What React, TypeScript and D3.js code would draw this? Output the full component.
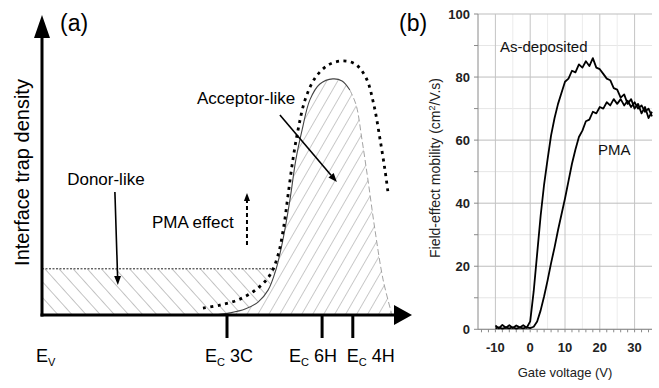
import React from 'react';
import * as d3 from 'd3';

const W = 659;
const H = 388;
const FONT = 'Liberation Sans, Arial, sans-serif';

// ---- panel (a): schematic trap density, energy 0..10 (Ev -> right), density 0..10
const donorLevel = 1.54;
const donorEnd = 6.32;
const acceptorRise: [number, number][] = [
  [4.68, 0], [5.08, 0.07], [5.49, 0.2], [5.84, 0.43], [6.11, 0.83], [6.32, 1.5],
  [6.51, 2.5], [6.7, 3.83], [6.86, 5.17], [7.03, 6.17], [7.24, 7.17], [7.51, 7.7],
  [7.86, 7.87], [8.11, 7.8], [8.32, 7.5],
];
const acceptorFall: [number, number][] = [
  [8.32, 7.5], [8.49, 7.0], [8.65, 5.83], [8.81, 4.5], [9.0, 2.83], [9.22, 1.17], [9.46, 0],
];
const pmaShift: [number, number][] = [
  [4.35, 0.23], [4.81, 0.33], [5.35, 0.53], [5.84, 0.9], [6.16, 1.33], [6.38, 2.0],
  [6.54, 3.0], [6.65, 4.0], [6.78, 5.17], [6.92, 6.17], [7.11, 7.17], [7.38, 7.9],
  [7.73, 8.33], [8.11, 8.47], [8.46, 8.37], [8.76, 7.9], [8.97, 7.0], [9.14, 5.83],
  [9.27, 4.83], [9.35, 4.1],
];
const bandEdges = [5.0, 7.57, 8.4];
const bandNames = ['3C', '6H', '4H'];

// ---- panel (b): field-effect mobility vs gate voltage
const gateVoltage = [
  -10, -9, -8, -7, -6, -5, -4, -3, -2, -1, 0, 1, 2, 3, 4, 5, 6, 7, 8, 9, 10, 11, 12,
  13, 14, 15, 16, 17, 18, 19, 20, 21, 22, 23, 24, 25, 26, 27, 28, 29, 30, 31, 32, 33, 34, 35,
];
const muAsDeposited = [
  1.2, 0.3, 1.4, 0.5, 1.3, 0.4, 1.2, 0.6, 1.3, 0.5, 2.5, 12, 24, 36, 46, 54, 61.5, 67,
  71.5, 75, 78.5, 79.5, 82, 81.5, 84, 83, 85, 83.5, 86, 83, 82.5, 81, 79.5, 79, 76.5,
  76, 73.5, 74.5, 71.5, 73, 70, 71.5, 68.5, 70.5, 67, 69,
];
const muPMA = [
  0.3, 0.6, 0.2, 0.5, 0.3, 0.6, 0.2, 0.5, 0.3, 0.6, 0.4, 0.8, 2.5, 6, 10.5, 15.5, 21,
  26, 31.5, 36.5, 41.5, 47, 52.5, 57, 61, 63, 66, 66.5, 69, 68.5, 70.5, 70, 72, 71, 73,
  71.5, 73, 71, 72.5, 70.5, 72, 70, 71, 69, 70, 67.5,
];
const xTicksB = [-10, 0, 10, 20, 30];
const yTicksB = [0, 20, 40, 60, 80, 100];

function Arrow({ x1, y1, x2, y2, dash, w = 1.6, head = 9 }: any) {
  const a = Math.atan2(y2 - y1, x2 - x1);
  const bx = x2 - head * Math.cos(a);
  const by = y2 - head * Math.sin(a);
  const hw = head * 0.38;
  const p1 = [bx + hw * Math.sin(a), by - hw * Math.cos(a)];
  const p2 = [bx - hw * Math.sin(a), by + hw * Math.cos(a)];
  return (
    <g>
      <line x1={x1} y1={y1} x2={bx} y2={by} stroke="#000" strokeWidth={w} strokeDasharray={dash} />
      <polygon points={`${x2},${y2} ${p1[0]},${p1[1]} ${p2[0]},${p2[1]}`} fill="#000" />
    </g>
  );
}

export default function App() {
  const xa = d3.scaleLinear().domain([0, 10]).range([42, 412]);
  const ya = d3.scaleLinear().domain([0, 10]).range([315, 15]);
  const lineA = d3.line<[number, number]>().x(d => xa(d[0])).y(d => ya(d[1]));
  const smoothA = d3.line<[number, number]>().x(d => xa(d[0])).y(d => ya(d[1])).curve(d3.curveCatmullRom);

  const donorPoly: [number, number][] = [
    [0, 0], [0, donorLevel], [donorEnd, donorLevel],
    ...acceptorRise.filter(p => p[1] <= donorLevel).slice().reverse(),
  ];
  const acceptorPoly: [number, number][] = [...acceptorRise, ...acceptorFall.slice(1)];

  const xb = d3.scaleLinear().domain([-15, 35]).range([478, 652]);
  const yb = d3.scaleLinear().domain([0, 100]).range([329.3, 14]);
  const lineB = d3.line<number>().x((_, i) => xb(gateVoltage[i])).y(d => yb(d));
  const minorX = d3.range(-14, 35, 2);
  const gridXMinor = [-5, 5, 15, 25];
  const gridYMinor = [10, 30, 50, 70, 90];
  const labelDx = [-22, -33, -6];

  return (
    <svg width={W} height={H} style={{ position: 'absolute', left: 0, top: 0, background: '#fff' }} fontFamily={FONT}>
      <defs>
        <pattern id="hDonor" width="10.5" height="10.5" patternUnits="userSpaceOnUse" patternTransform="rotate(-42)">
          <line x1="0" y1="0" x2="0" y2="10.5" stroke="#7a7a7a" strokeWidth="0.9" />
        </pattern>
        <pattern id="hAcc" width="9.5" height="9.5" patternUnits="userSpaceOnUse" patternTransform="rotate(30)">
          <line x1="0" y1="0" x2="0" y2="9.5" stroke="#8a8a8a" strokeWidth="0.9" />
        </pattern>
      </defs>

      {/* panel (a) */}
      <path d={lineA(donorPoly) + 'Z'} fill="url(#hDonor)" />
      <path d={smoothA(acceptorPoly) + 'Z'} fill="url(#hAcc)" />
      <line x1={xa(0)} x2={xa(donorEnd)} y1={ya(donorLevel)} y2={ya(donorLevel)} stroke="#222" strokeWidth={1} strokeDasharray="2,1.5" />
      <path d={smoothA(acceptorRise) ?? ''} fill="none" stroke="#444" strokeWidth={1.1} />
      <path d={smoothA(acceptorFall) ?? ''} fill="none" stroke="#999" strokeWidth={0.9} strokeDasharray="6,3" />
      <path d={smoothA(pmaShift) ?? ''} fill="none" stroke="#000" strokeWidth={2.8} strokeDasharray="3,4.5" />

      <line x1={xa(0)} x2={xa(0)} y1={ya(0) + 1.5} y2={ya(10) + 20} stroke="#000" strokeWidth={3} />
      <polygon points={`${xa(0)},${ya(10)} ${xa(0) - 8},${ya(10) + 23} ${xa(0) + 8},${ya(10) + 23}`} fill="#000" />
      <line x1={xa(0) - 1.5} x2={xa(10) - 16} y1={ya(0)} y2={ya(0)} stroke="#000" strokeWidth={3} />
      <polygon points={`${xa(10)},${ya(0)} ${xa(10) - 18},${ya(0) - 10} ${xa(10) - 18},${ya(0) + 10}`} fill="#000" />
      {bandEdges.map(e => (
        <line key={e} x1={xa(e)} x2={xa(e)} y1={ya(0)} y2={ya(0) + 23} stroke="#000" strokeWidth={3} />
      ))}

      <text x={xa(0) - 6} y={362} fontSize={18}>E<tspan fontSize={11} dy={4}>V</tspan></text>
      {bandEdges.map((e, i) => (
        <text key={e} x={xa(e) + labelDx[i]} y={362} fontSize={18}>
          E<tspan fontSize={11} dy={4}>C</tspan><tspan dy={-4}> {bandNames[i]}</tspan>
        </text>
      ))}

      <text x={60} y={31} fontSize={23}>(a)</text>
      <text x={399} y={31} fontSize={23}>(b)</text>
      <text transform={`translate(29,${ya(4.75)}) rotate(-90)`} textAnchor="middle" fontSize={20}>Interface trap density</text>

      <text x={xa(4.19)} y={ya(7.05)} fontSize={17}>Acceptor-like</text>
      <Arrow x1={xa(6.43)} y1={ya(6.67)} x2={xa(7.97)} y2={ya(4.43)} />
      <text x={xa(0.68)} y={ya(4.33)} fontSize={17}>Donor-like</text>
      <Arrow x1={xa(1.97)} y1={ya(4.1)} x2={xa(2.05)} y2={ya(1.0)} />
      <text x={xa(2.97)} y={ya(2.9)} fontSize={17}>PMA effect</text>
      <Arrow x1={xa(5.54)} y1={ya(2.33)} x2={xa(5.54)} y2={ya(4.07)} dash="4,3" w={2} head={8} />

      {/* panel (b) */}
      {gridYMinor.map(v => (
        <line key={'gy' + v} x1={xb(-15)} x2={xb(35)} y1={yb(v)} y2={yb(v)} stroke="#e6e6e6" strokeWidth={1} />
      ))}
      {gridXMinor.map(v => (
        <line key={'gx' + v} x1={xb(v)} x2={xb(v)} y1={yb(0)} y2={yb(100)} stroke="#ececec" strokeWidth={1} />
      ))}
      {yTicksB.map(v => (
        <line key={'y' + v} x1={xb(-15)} x2={xb(35)} y1={yb(v)} y2={yb(v)} stroke="#bdbdbd" strokeWidth={1} />
      ))}
      {xTicksB.map(v => (
        <line key={'x' + v} x1={xb(v)} x2={xb(v)} y1={yb(0)} y2={yb(100)} stroke="#c4c4c4" strokeWidth={1} />
      ))}
      <line x1={xb(-15)} x2={xb(-15)} y1={yb(0)} y2={yb(100)} stroke="#8a8a8a" strokeWidth={1} />
      <line x1={xb(-15)} x2={xb(35)} y1={yb(0)} y2={yb(0)} stroke="#8a8a8a" strokeWidth={1} />
      {d3.range(0, 101, 10).map(v => (
        <line key={'yt' + v} x1={xb(-15) - 4} x2={xb(-15)} y1={yb(v)} y2={yb(v)} stroke="#8a8a8a" strokeWidth={1} />
      ))}
      {minorX.map(v => (
        <line key={'xt' + v} x1={xb(v)} x2={xb(v)} y1={yb(0)} y2={yb(0) + 3} stroke="#8a8a8a" strokeWidth={1} />
      ))}
      {yTicksB.map(v => (
        <text key={'yl' + v} x={xb(-15) - 8} y={yb(v)} dy="0.35em" textAnchor="end" fontSize={13} fontWeight="bold" fill="#222">{v}</text>
      ))}
      {xTicksB.map(v => (
        <text key={'xl' + v} x={xb(v)} y={352} textAnchor="middle" fontSize={13} fontWeight="bold" fill="#222">{v}</text>
      ))}

      <path d={lineB(muAsDeposited) ?? ''} fill="none" stroke="#000" strokeWidth={1.8} strokeLinejoin="round" />
      <path d={lineB(muPMA) ?? ''} fill="none" stroke="#000" strokeWidth={1.8} strokeLinejoin="round" />

      <text x={500} y={52} fontSize={15} fill="#111">As-deposited</text>
      <text x={598} y={155} fontSize={15} fill="#111">PMA</text>
      <text x={565} y={377} textAnchor="middle" fontSize={13} fill="#222">Gate voltage (V)</text>
      <text transform={`translate(440,168) rotate(-90)`} textAnchor="middle" fontSize={14} fill="#222">
        Field-effect mobility (cm<tspan fontSize={9} dy={-5}>2</tspan><tspan dy={5}>/V.s)</tspan>
      </text>
    </svg>
  );
}
